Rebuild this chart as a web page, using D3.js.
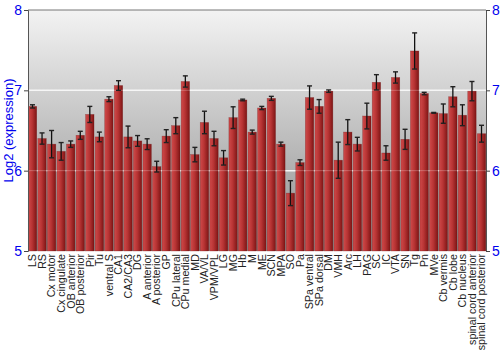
<!DOCTYPE html>
<html>
<head>
<meta charset="utf-8">
<script src="https://cdn.jsdelivr.net/npm/d3@7"></script>
<style>
  body { margin: 0; background: #fff; }
  svg { display: block; font-family: "Liberation Sans", Arial, sans-serif; }
</style>
</head>
<body>
<svg id="chart" width="500" height="350"></svg>
<script>
"use strict"

const regions = ["LS", "RS", "Cx motor", "Cx cingulate", "OB anterior", "OB posterior", "Pir", "Tu",
    "ventral S", "CA1", "CA2/CA3", "DG", "A anterior", "A posterior", "GP", "CPu lateral", "CPu medial",
    "MD", "VA/VL", "VPM/VPL", "LG", "MG", "Hb", "M", "ME", "SCN", "MPA", "SO", "Pa", "SPa ventral",
    "SPa dorsal", "DM", "VMH", "Arc", "LH", "PAG", "SC", "IC", "VTA", "SN", "Tg", "Pn", "MVe",
    "Cb vermis", "Cb lobe", "Cb nucleus", "spinal cord anterior", "spinal cord posterior"]

const expression = [6.80, 6.40, 6.33, 6.24, 6.33, 6.44, 6.70, 6.42,
    6.89, 7.06, 6.42, 6.37, 6.33, 6.05, 6.43, 6.56, 7.11,
    6.20, 6.60, 6.40, 6.16, 6.66, 6.88, 6.48, 6.78, 6.90, 6.33, 5.72, 6.10, 6.91,
    6.80, 6.99, 6.13, 6.48, 6.33, 6.68, 7.10, 6.22, 7.16, 6.39, 7.49, 6.96, 6.72,
    6.71, 6.92, 6.69, 6.99, 6.46]

const stdErr = [0.02, 0.07, 0.17, 0.11, 0.04, 0.05, 0.10, 0.06,
    0.03, 0.06, 0.135, 0.067, 0.067, 0.067, 0.08, 0.10, 0.07,
    0.09, 0.14, 0.09, 0.09, 0.135, 0.01, 0.025, 0.02, 0.025, 0.025, 0.155, 0.035, 0.145,
    0.085, 0.015, 0.225, 0.155, 0.085, 0.16, 0.095, 0.09, 0.07, 0.125, 0.225, 0.015, 0.005,
    0.12, 0.125, 0.13, 0.12, 0.105]

const yTicks = [5, 6, 7, 8]

const margin = {top: 10, right: 14, bottom: 99, left: 28}
const width = 500 - margin.left - margin.right
const height = 350 - margin.top - margin.bottom

const svg = d3.select("#chart")
const defs = svg.append("defs")

const bg = defs.append("linearGradient").attr("id", "bg").attr("x1", 0).attr("y1", 0).attr("x2", 0).attr("y2", 1)
bg.append("stop").attr("offset", "0%").attr("stop-color", "#f3f3f3")
bg.append("stop").attr("offset", "100%").attr("stop-color", "#8e8e8e")

const barFill = defs.append("linearGradient").attr("id", "barFill").attr("x1", 0).attr("y1", 0).attr("x2", 1).attr("y2", 0)
barFill.append("stop").attr("offset", "0%").attr("stop-color", "#cf4a4a")
barFill.append("stop").attr("offset", "45%").attr("stop-color", "#b83434")
barFill.append("stop").attr("offset", "100%").attr("stop-color", "#7e1515")

const g = svg.append("g").attr("transform", "translate(" + margin.left + "," + margin.top + ")")

const x = d3.scaleBand().domain(regions).range([0, width]).paddingInner(0.12).paddingOuter(0.03)
const y = d3.scaleLinear().domain([5, 8]).range([height, 0])

g.append("rect")
    .attr("width", width)
    .attr("height", height)
    .attr("fill", "url(#bg)")

// grid lines behind bars
g.selectAll(".grid")
    .data([6, 7])
    .enter()
    .append("line")
    .attr("class", "grid")
    .attr("x1", 0).attr("x2", width)
    .attr("y1", d => y(d)).attr("y2", d => y(d))
    .attr("stroke", "#f4f4f4")
    .attr("stroke-width", 1.5)

g.selectAll(".bar")
    .data(regions)
    .enter()
    .append("rect")
    .attr("class", "bar")
    .attr("x", d => x(d))
    .attr("width", x.bandwidth())
    .attr("y", (d, i) => y(expression[i]))
    .attr("height", (d, i) => height - y(expression[i]))
    .attr("fill", "url(#barFill)")
    .attr("stroke", "#6e1010")
    .attr("stroke-opacity", 0.45)
    .attr("stroke-width", 0.6)

// faint grid over the bars
g.selectAll(".gridTop")
    .data([6, 7])
    .enter()
    .append("line")
    .attr("class", "gridTop")
    .attr("x1", 0).attr("x2", width)
    .attr("y1", d => y(d)).attr("y2", d => y(d))
    .attr("stroke", "#ffffff")
    .attr("stroke-opacity", 0.25)

const errs = g.selectAll(".err")
    .data(regions)
    .enter()
    .append("g")
    .attr("class", "err")
    .attr("transform", d => "translate(" + (x(d) + x.bandwidth() / 2) + ",0)")

errs.append("line")
    .attr("y1", (d, i) => y(expression[i] + stdErr[i]))
    .attr("y2", (d, i) => y(expression[i] - stdErr[i]))
    .attr("stroke", "#111")
    .attr("stroke-width", 1.3)

errs.selectAll(".cap")
    .data((d, i) => [expression[i] + stdErr[i], expression[i] - stdErr[i]])
    .enter()
    .append("line")
    .attr("class", "cap")
    .attr("x1", -2.5).attr("x2", 2.5)
    .attr("y1", d => y(d)).attr("y2", d => y(d))
    .attr("stroke", "#222")
    .attr("stroke-width", 1.4)

// top border
g.append("line")
    .attr("x1", 0).attr("x2", width)
    .attr("y1", 0).attr("y2", 0)
    .attr("stroke", "#777")

const yAxisL = d3.axisLeft(y).tickValues(yTicks).tickFormat(d3.format("d")).tickSize(4).tickPadding(2)
const yAxisR = d3.axisRight(y).tickValues(yTicks).tickFormat(d3.format("d")).tickSize(4).tickPadding(2)

const axL = g.append("g").attr("class", "y axis").call(yAxisL)
const axR = g.append("g").attr("class", "y axis").attr("transform", "translate(" + width + ",0)").call(yAxisR)

for (const ax of [axL, axR]) {
    ax.select(".domain").attr("stroke", "#555")
    ax.selectAll(".tick line").attr("stroke", "#444")
    ax.selectAll(".tick text")
        .attr("fill", "#0000ee")
        .style("font-size", "14px")
        .style("font-family", "\"Liberation Sans\", Arial, sans-serif")
}

svg.append("text")
    .attr("transform", "rotate(-90)")
    .attr("x", -(margin.top + height / 2))
    .attr("y", 13)
    .style("text-anchor", "middle")
    .style("font-size", "13px")
    .attr("fill", "#0000ee")
    .text("Log2 (expression)")

g.selectAll(".xlabel")
    .data(regions)
    .enter()
    .append("text")
    .attr("class", "xlabel")
    .attr("transform", d => "translate(" + (x(d) + x.bandwidth() / 2 + 3.8) + "," + (height + 3) + ") rotate(-90)")
    .style("text-anchor", "end")
    .style("font-size", "10.7px")
    .attr("fill", "#222")
    .text(d => d)
</script>
</body>
</html>
